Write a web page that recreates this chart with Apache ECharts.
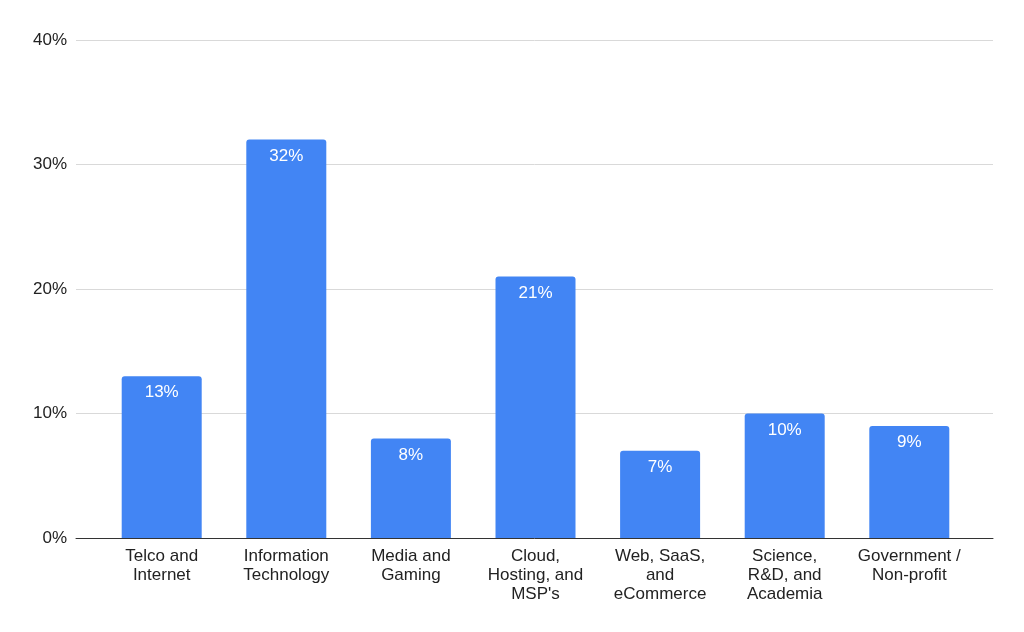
<!DOCTYPE html>
<html>
<head>
<meta charset="utf-8">
<script src="https://cdn.jsdelivr.net/npm/echarts@6/dist/echarts.min.js"></script>
<style>
  html, body { margin: 0; padding: 0; background: #fff; }
  #chart { width: 1024px; height: 632px; }
</style>
</head>
<body>
<div id="chart"></div>
<script>
// categories and values
const categories = [
  'Telco and\nInternet',
  'Information\nTechnology',
  'Media and\nGaming',
  'Cloud,\nHosting, and\nMSP\'s',
  'Web, SaaS,\nand\neCommerce',
  'Science,\nR&D, and\nAcademia',
  'Government /\nNon-profit'
];
const shares = [13, 32, 8, 21, 7, 10, 9];
const yTicks = [0, 10, 20, 30, 40];

const font = '"Liberation Sans", Arial, sans-serif';
let mychart = echarts.init(document.getElementById('chart'));

const option = {
  animation: false,
  textStyle: { fontFamily: font },
  grid: [
    // gridlines + y labels span the full width
    { left: 76, right: 31, top: 40, bottom: 94 },
    // bars sit in a slightly narrower band
    { left: 99.4, right: 52.4, top: 40, bottom: 94 }
  ],
  xAxis: [
    {
      gridIndex: 0, type: 'value', min: 0, max: 1,
      axisLine: { show: true, lineStyle: { color: '#333', width: 1 } },
      axisTick: { show: false }, axisLabel: { show: false }, splitLine: { show: false }
    },
    {
      gridIndex: 1, type: 'category', data: categories,
      axisLine: { show: false }, axisTick: { show: false },
      axisLabel: {
        color: '#222', fontSize: 17, lineHeight: 19, margin: 9,
        interval: 0, fontFamily: font
      }
    }
  ],
  yAxis: [
    {
      gridIndex: 0, type: 'value', min: yTicks[0], max: yTicks[yTicks.length - 1], interval: 10,
      axisLine: { show: false }, axisTick: { show: false },
      axisLabel: { color: '#222', fontSize: 17, margin: 9, formatter: '{value}%', fontFamily: font },
      splitLine: { lineStyle: { color: '#d9d9d9', width: 1 } }
    },
    {
      gridIndex: 1, type: 'value', min: 0, max: 40,
      axisLine: { show: false }, axisTick: { show: false },
      axisLabel: { show: false }, splitLine: { show: false }
    }
  ],
  series: [
    {
      type: 'bar',
      xAxisIndex: 1, yAxisIndex: 1,
      data: shares,
      barWidth: 80,
      itemStyle: { color: '#4285f4', borderRadius: [3, 3, 0, 0] },
      label: {
        show: true, position: 'insideTop', distance: 8,
        color: '#fff', fontSize: 17, formatter: '{c}%', fontFamily: font
      }
    }
  ]
};
mychart.setOption(option);
</script>
</body>
</html>
